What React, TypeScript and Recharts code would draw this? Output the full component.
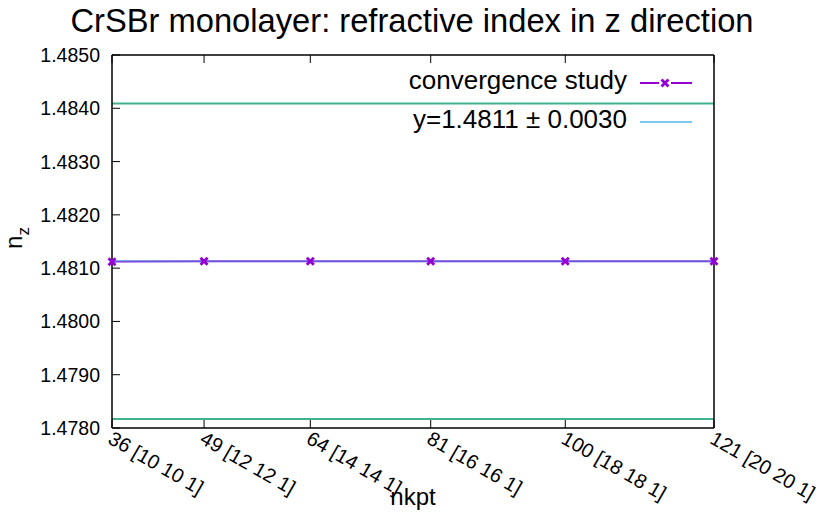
import React from "react";
import { ComposedChart, Line, XAxis, YAxis, ReferenceLine } from "recharts";

// k-point counts and the matching Monkhorst-Pack grids
const nkpt = [36, 49, 64, 81, 100, 121];
const kgrid = ["[10 10 1]", "[12 12 1]", "[14 14 1]", "[16 16 1]", "[18 18 1]", "[20 20 1]"];
// refractive index n_z at each k-point count
const nz = [1.48112, 1.48113, 1.48113, 1.48113, 1.48113, 1.48113];
const yTicks = [1.478, 1.479, 1.48, 1.481, 1.482, 1.483, 1.484, 1.485];

// converged value and 0.2 % tolerance band
const fitValue = 1.48113;
const fitError = 0.00296;

const PURPLE = "#9400d3";
const CYAN = "#56b4e9";
const GREEN = "#3fb38f";
const FONT = '"Liberation Sans", Arial, Helvetica, sans-serif';
const TICK_LEN = 8;

const data = nkpt.map((n, i) => ({ nkpt: n, nz: nz[i] }));

const LeftTick = (props: any) => {
  const { x, y, payload } = props;
  return (
    <g>
      <line x1={x} x2={x + TICK_LEN} y1={y} y2={y} stroke="#000" strokeWidth={1} />
      <text x={x - 12} y={y} textAnchor="end" dominantBaseline="central" fontSize={19.5} fill="#000" fontFamily={FONT}>
        {payload.value.toFixed(4)}
      </text>
    </g>
  );
};

const RightTick = (props: any) => {
  const { x, y } = props;
  return <line x1={x} x2={x - TICK_LEN} y1={y} y2={y} stroke="#000" strokeWidth={1} />;
};

const BottomTick = (props: any) => {
  const { x, y, payload } = props;
  const idx = nkpt.indexOf(payload.value);
  const tx = x + 2;
  const ty = y + 2;
  return (
    <g>
      <line x1={x} x2={x} y1={y} y2={y - TICK_LEN} stroke="#000" strokeWidth={1} />
      <text
        x={tx}
        y={ty}
        transform={`rotate(30, ${tx}, ${ty})`}
        textAnchor="start"
        dominantBaseline="hanging"
        fontSize={20}
        fill="#000"
        fontFamily={FONT}
      >
        {`${payload.value} ${kgrid[idx]}`}
      </text>
    </g>
  );
};

const TopTick = (props: any) => {
  const { x, y } = props;
  return <line x1={x} x2={x} y1={y} y2={y + TICK_LEN} stroke="#000" strokeWidth={1} />;
};

const CrossMark = ({ cx, cy, size = 3.5 }: { cx: number; cy: number; size?: number }) => (
  <g>
    <line x1={cx - size} y1={cy - size} x2={cx + size} y2={cy + size} stroke={PURPLE} strokeWidth={2.8} />
    <line x1={cx - size} y1={cy + size} x2={cx + size} y2={cy - size} stroke={PURPLE} strokeWidth={2.8} />
  </g>
);

const axisStroke = { stroke: "#000", strokeWidth: 1.5 };

export default function App() {
  return (
    <div
      style={{
        position: "absolute",
        left: 0,
        top: 0,
        width: 824,
        height: 513,
        background: "#fff",
        fontFamily: FONT,
      }}
    >
      <ComposedChart
        width={824}
        height={513}
        data={data}
        margin={{ top: 45, right: 100, bottom: 55, left: 52 }}
      >
        <XAxis
          xAxisId="bottom"
          dataKey="nkpt"
          type="number"
          domain={[36, 121]}
          ticks={nkpt}
          interval={0}
          height={30}
          tickSize={0}
          tickMargin={0}
          tickLine={false}
          axisLine={axisStroke}
          tick={<BottomTick />}
        />
        <XAxis
          xAxisId="top"
          orientation="top"
          dataKey="nkpt"
          type="number"
          domain={[36, 121]}
          ticks={nkpt}
          interval={0}
          height={10}
          tickSize={0}
          tickMargin={0}
          tickLine={false}
          axisLine={axisStroke}
          tick={<TopTick />}
        />
        <YAxis
          yAxisId="left"
          type="number"
          domain={[1.478, 1.485]}
          ticks={yTicks}
          interval={0}
          width={60}
          tickSize={0}
          tickMargin={0}
          tickLine={false}
          axisLine={axisStroke}
          tick={<LeftTick />}
        />
        <YAxis
          yAxisId="right"
          orientation="right"
          type="number"
          domain={[1.478, 1.485]}
          ticks={yTicks}
          interval={0}
          width={10}
          tickSize={0}
          tickMargin={0}
          tickLine={false}
          axisLine={axisStroke}
          tick={<RightTick />}
        />
        <ReferenceLine xAxisId="bottom" yAxisId="left" y={fitValue + fitError} stroke={GREEN} strokeWidth={2} />
        <ReferenceLine xAxisId="bottom" yAxisId="left" y={fitValue - fitError} stroke={GREEN} strokeWidth={2} />
        <ReferenceLine xAxisId="bottom" yAxisId="left" y={fitValue} stroke={CYAN} strokeWidth={2} />
        <Line
          xAxisId="bottom"
          yAxisId="left"
          dataKey="nz"
          stroke={PURPLE}
          strokeWidth={2}
          strokeOpacity={0.55}
          isAnimationActive={false}
          dot={(p: any) => <CrossMark key={p.index} cx={p.cx} cy={p.cy} />}
          activeDot={false}
        />
      </ComposedChart>

      {/* title, axis labels and key */}
      <svg
        width={824}
        height={513}
        style={{ position: "absolute", left: 0, top: 0, pointerEvents: "none" }}
        fontFamily={FONT}
      >
        <text x={412} y={32} textAnchor="middle" fontSize={32.7} fill="#000">
          CrSBr monolayer: refractive index in z direction
        </text>
        <text x={413} y={505} textAnchor="middle" fontSize={24} fill="#000">
          nkpt
        </text>
        <text transform="translate(22, 238) rotate(-90)" textAnchor="middle" fontSize={24} fill="#000">
          n
          <tspan fontSize={17} dy={7}>
            z
          </tspan>
        </text>

        <text x={627} y={89} textAnchor="end" fontSize={26} fill="#000">
          convergence study
        </text>
        <line x1={640} x2={659} y1={83} y2={83} stroke={PURPLE} strokeWidth={2} />
        <line x1={671} x2={692} y1={83} y2={83} stroke={PURPLE} strokeWidth={2} />
        <CrossMark cx={665} cy={83} />

        <text x={627} y={128} textAnchor="end" fontSize={26} fill="#000">
          {`y=${fitValue.toFixed(4)} ± ${fitError.toFixed(4)}`}
        </text>
        <line x1={640} x2={692} y1={122} y2={122} stroke={CYAN} strokeWidth={1.5} />
      </svg>
    </div>
  );
}
